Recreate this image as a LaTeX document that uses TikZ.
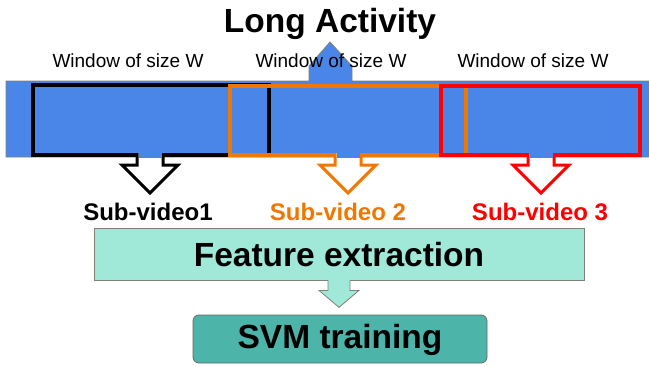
\documentclass[tikz,border=0pt]{standalone}
\usepackage{fontspec}
\setmainfont{Liberation Sans}
\usepackage{xcolor}
\usepackage{tikz}
\usetikzlibrary{positioning}

\definecolor{barblue}{RGB}{74,134,232}
\definecolor{subtwo}{RGB}{241,120,0}
\definecolor{featfill}{RGB}{160,232,216}
\definecolor{svmfill}{RGB}{77,180,170}
\definecolor{edgegray}{RGB}{128,128,118}

\tikzset{
  window/.style={line width=3.5pt},
  dnarrow/.style={line width=3pt, fill=white, line join=miter},
  bigtext/.style={font=\fontsize{33.5pt}{40pt}\selectfont\bfseries},
  subtext/.style={font=\fontsize{24pt}{28pt}\selectfont\bfseries, anchor=base},
  wintext/.style={font=\fontsize{19pt}{22pt}\selectfont, anchor=base}
}

\begin{document}
\begin{tikzpicture}[x=1pt,y=-1pt]
\useasboundingbox (0,0) rectangle (649,367);

% long activity bar with its arrow
\filldraw[fill=barblue, draw=edgegray, thick]
(6,157) -- (6,81) -- (309,81) -- (309,66) -- (330,42) -- (352,66) -- (352,81) -- (660,81) -- (660,157) -- cycle;

\node[bigtext, anchor=base] (title) at (330,32) {Long Activity};
\node[wintext] (w1) at (128,67) {Window of size W};
\node[wintext] (w2) at (331,67) {Window of size W};
\node[wintext] (w3) at (533,67) {Window of size W};

% windows
\draw[window, black]  (33,85) rectangle (269,155);
\draw[window, subtwo] (230,86) rectangle (466,155);
\draw[window, red]    (441,86) rectangle (640,155);

\foreach \c/\col in {150/black, 348/subtwo, 541/red} {
  \filldraw[dnarrow, draw=\col] (\c-13,153) -- (\c-13,165) -- (\c-28,165) -- (\c,193) -- (\c+28,165) -- (\c+13,165) -- (\c+13,153);
  \fill[barblue] (\c-11.5,152) rectangle (\c+11.5,156.5);
  \draw[edgegray, thick] (\c-11.5,157) -- (\c+11.5,157);
}

\node[subtext, text=black]  (s1) at (148,220) {Sub-video1};
\node[subtext, text=subtwo] (s2) at (338,220) {Sub-video 2};
\node[subtext, text=red]    (s3) at (540,220) {Sub-video 3};

% feature extraction and training
\node[bigtext, draw=edgegray, thick, fill=featfill, minimum width=490pt, minimum height=52pt,
      text height=24pt, text depth=0pt] (feat) at (339,254) {Feature extraction};
\node[bigtext, draw=edgegray!80!black, thick, fill=svmfill, rounded corners=6pt, minimum width=294pt,
      minimum height=48pt, text height=24pt, text depth=6pt] (svm) at (340,339) {SVM training};

\fill[featfill] (feat.south) ++(-11,-1) rectangle ++(22,2);
\filldraw[fill=featfill, draw=edgegray, thick] (feat.south) ++(-11,0) -- ++(0,10) -- ++(-9,0) -- ++(20,17) -- ++(20,-17) -- ++(-9,0) -- ++(0,-10);
\fill[featfill] (feat.south) ++(-10,-1) rectangle ++(20,2);
\end{tikzpicture}
\end{document}
